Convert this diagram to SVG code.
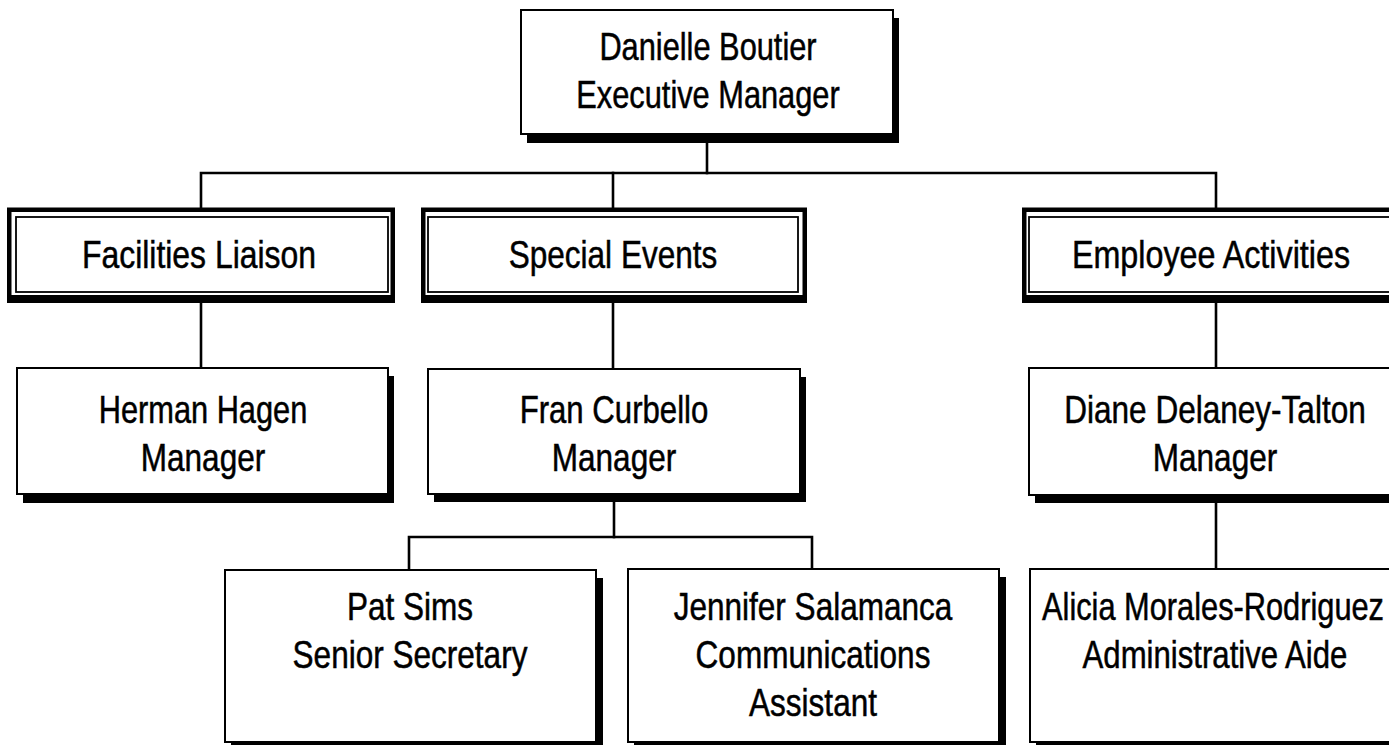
<svg xmlns="http://www.w3.org/2000/svg" width="1389" height="745" viewBox="0 0 1389 745">
<style>
.bg{fill:#ffffff}
.shadow{fill:#000000}
.box{fill:#ffffff;stroke:#000000;stroke-width:2}
.frame{fill:#000000}
.frameIn{fill:#ffffff}
.inner{fill:none;stroke:#000000;stroke-width:1.8}
.conn{fill:none;stroke:#000000;stroke-width:2.6;stroke-linecap:square}
text{font-family:"Liberation Sans",Arial,sans-serif;font-size:38px;fill:#000000;stroke:#000000;stroke-width:0.5;text-anchor:middle}
</style>
<rect class="bg" x="0" y="0" width="1389" height="745"/>
<g id="connectors">
  <path class="conn" d="M707 134 V173"/>
  <path class="conn" d="M201 207 V173 H1216 V207"/>
  <path class="conn" d="M613 173 V207"/>
  <path class="conn" d="M201 303 V368"/>
  <path class="conn" d="M613 303 V369"/>
  <path class="conn" d="M1216 303 V368"/>
  <path class="conn" d="M614 494 V537"/>
  <path class="conn" d="M409 570 V537 H812 V569"/>
  <path class="conn" d="M1216 495 V569"/>
</g>
<g id="danielle">
  <rect class="shadow" x="527" y="18" width="372" height="125"/>
  <rect class="box" x="521" y="10" width="372" height="124"/>
  <text transform="translate(708 60) scale(0.81 1)">Danielle Boutier</text>
  <text transform="translate(708 108) scale(0.81 1)">Executive Manager</text>
</g>
<g id="facilities">
  <rect class="frame" x="7" y="207.5" width="388" height="95.5"/>
  <rect class="frameIn" x="11.5" y="212" width="379" height="83"/>
  <rect class="inner" x="16" y="217" width="372" height="75"/>
  <text transform="translate(199 268) scale(0.84 1)">Facilities Liaison</text>
</g>
<g id="special-events">
  <rect class="frame" x="421" y="207.5" width="386" height="95.5"/>
  <rect class="frameIn" x="425.5" y="212" width="377" height="83"/>
  <rect class="inner" x="428" y="217" width="370" height="75"/>
  <text transform="translate(613 268) scale(0.83 1)">Special Events</text>
</g>
<g id="employee-activities">
  <rect class="frame" x="1022" y="207.5" width="388" height="95.5"/>
  <rect class="frameIn" x="1026.5" y="212" width="379" height="83"/>
  <rect class="inner" x="1029" y="217" width="372" height="75"/>
  <text transform="translate(1211 268) scale(0.85 1)">Employee Activities</text>
</g>
<g id="herman">
  <rect class="shadow" x="23" y="376" width="371" height="127"/>
  <rect class="box" x="17" y="368" width="371" height="126"/>
  <text transform="translate(203 423) scale(0.81 1)">Herman Hagen</text>
  <text transform="translate(203 471) scale(0.83 1)">Manager</text>
</g>
<g id="fran">
  <rect class="shadow" x="434" y="377" width="372" height="125"/>
  <rect class="box" x="428" y="369" width="372" height="125"/>
  <text transform="translate(614 423) scale(0.82 1)">Fran Curbello</text>
  <text transform="translate(614 471) scale(0.83 1)">Manager</text>
</g>
<g id="diane">
  <rect class="shadow" x="1035" y="376" width="372" height="127"/>
  <rect class="box" x="1029" y="368" width="372" height="127"/>
  <text transform="translate(1215 423) scale(0.83 1)">Diane Delaney-Talton</text>
  <text transform="translate(1215 471) scale(0.83 1)">Manager</text>
</g>
<g id="pat">
  <rect class="shadow" x="231" y="578" width="372" height="175"/>
  <rect class="box" x="225" y="570" width="371" height="172"/>
  <text transform="translate(410 620) scale(0.83 1)">Pat Sims</text>
  <text transform="translate(410 668) scale(0.83 1)">Senior Secretary</text>
</g>
<g id="jennifer">
  <rect class="shadow" x="634" y="577" width="372" height="176"/>
  <rect class="box" x="628" y="569" width="371" height="173"/>
  <text transform="translate(813 620) scale(0.83 1)">Jennifer Salamanca</text>
  <text transform="translate(813 668) scale(0.83 1)">Communications</text>
  <text transform="translate(813 716) scale(0.83 1)">Assistant</text>
</g>
<g id="alicia">
  <rect class="shadow" x="1036" y="577" width="372" height="176"/>
  <rect class="box" x="1030" y="569" width="372" height="173"/>
  <text transform="translate(1213 620) scale(0.81 1)">Alicia Morales-Rodriguez</text>
  <text transform="translate(1215 668) scale(0.82 1)">Administrative Aide</text>
</g>
</svg>
